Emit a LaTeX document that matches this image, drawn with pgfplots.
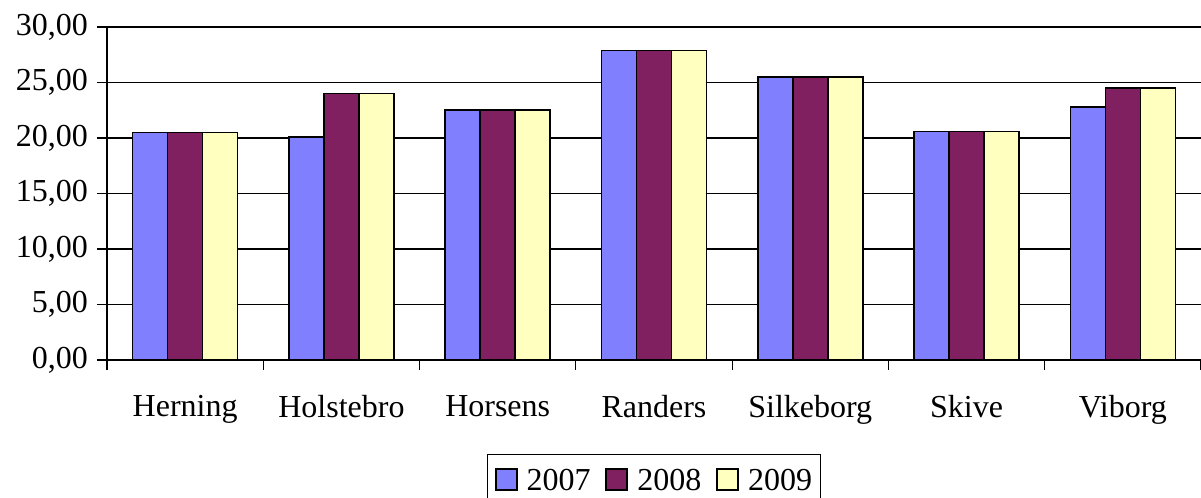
\documentclass[border=0pt]{standalone}
\usepackage{pgfplots}
\pgfplotsset{compat=1.18}
\usepackage{fontspec}
\setmainfont{Liberation Serif}
\definecolor{c07}{HTML}{8080FF}
\definecolor{c08}{HTML}{802060}
\definecolor{c09}{HTML}{FFFFC0}
\begin{document}
\begin{tikzpicture}
\begin{axis}[
  at={(0,0)}, anchor=south west,
  scale only axis,
  width=547pt, height=166.5pt,
  ymin=0, ymax=30, ytick={0,5,...,30},
  xmin=-0.5, xmax=6.5,
  xtick={0,...,6},
  xticklabels={Herning,Holstebro,Horsens,Randers,Silkeborg,Skive,Viborg},
  minor xtick={-0.5,0.5,...,6.5},
  major x tick style={draw=none},
  minor x tick style={black, line width=0.6pt},
  minor tick length=5pt,
  major tick length=5pt,
  tick align=outside,
  axis x line*=bottom, axis y line*=left,
  axis line style={black, line width=0.6pt, -},
  ymajorgrids, grid style={black, line width=0.6pt},
  ytick style={black, line width=0.6pt},
  /pgf/number format/.cd, fixed, fixed zerofill, precision=2, use comma, assume math mode=true,
  /pgfplots/.cd,
  every tick label/.append style={font=\fontsize{16pt}{19pt}\selectfont},
  xticklabel style={yshift=-9pt},
  yticklabel style={xshift=-1pt},
  ybar=0pt, bar width=17.5pt,
  every axis plot/.append style={draw=black, line width=0.8pt},
  legend style={at={(axis description cs:0.5,0)}, yshift=-47pt, anchor=north,
    legend columns=3, draw=black, line width=0.6pt,
    font=\fontsize{16pt}{19pt}\selectfont,
    inner xsep=2.5pt, inner ysep=6.5pt,
    nodes={inner xsep=1.5pt, inner ysep=0pt, text height=11pt, text depth=0pt},
    /tikz/every odd column/.append style={column sep=3pt},
    /tikz/every even column/.append style={column sep=5pt}},
  legend image code/.code={\path (0pt,0pt); \draw[#1, line width=1pt] (1pt,-5.25pt) rectangle (11.5pt,5.25pt);},
]
\addplot[fill=c07] coordinates {(0,20.5) (1,20.1) (2,22.5) (3,27.9) (4,25.5) (5,20.6) (6,22.8)};
\addplot[fill=c08] coordinates {(0,20.5) (1,24.0) (2,22.5) (3,27.9) (4,25.5) (5,20.6) (6,24.5)};
\addplot[fill=c09] coordinates {(0,20.5) (1,24.0) (2,22.5) (3,27.9) (4,25.5) (5,20.6) (6,24.5)};
\legend{2007,2008,2009}
\end{axis}
\pgfresetboundingbox
\path (-53.5pt,-69pt) rectangle (547pt,180pt);
\end{tikzpicture}
\end{document}
